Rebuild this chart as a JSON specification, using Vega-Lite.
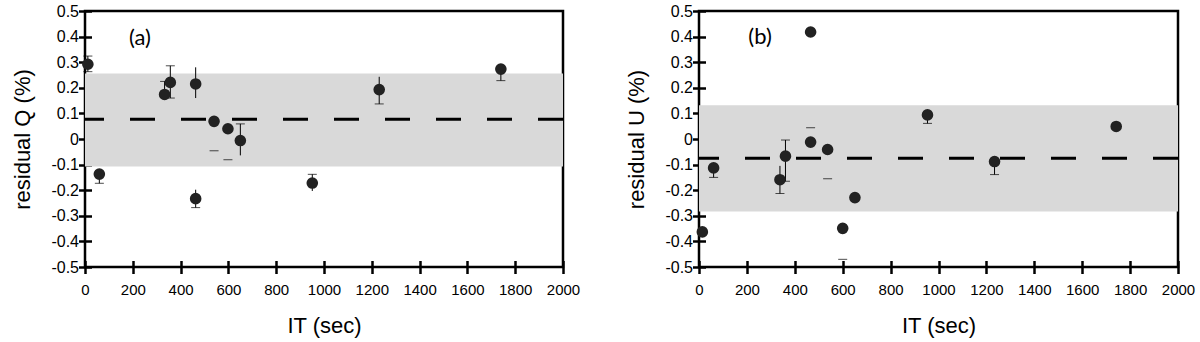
{
  "$schema": "https://vega.github.io/schema/vega-lite/v6.json",
  "padding": {"left": 10, "top": 1, "right": 0, "bottom": 0},
  "background": "white",
  "spacing": 43,
  "datasets": {
    "qpts": [
      {"it": 12, "val": 0.292, "lo": 0.263, "hi": 0.324, "cl": 0.263, "ch": 0.324},
      {"it": 60, "val": -0.137, "lo": -0.173, "hi": -0.137, "cl": -0.173, "ch": null},
      {"it": 333, "val": 0.174, "lo": 0.174, "hi": 0.225, "cl": null, "ch": 0.225},
      {"it": 357, "val": 0.221, "lo": 0.160, "hi": 0.286, "cl": 0.160, "ch": 0.286},
      {"it": 463, "val": 0.215, "lo": 0.160, "hi": 0.280, "cl": null, "ch": null},
      {"it": 463, "val": -0.233, "lo": -0.268, "hi": -0.198, "cl": -0.268, "ch": null},
      {"it": 540, "val": 0.069, "lo": 0.069, "hi": 0.069, "cl": -0.046, "ch": null},
      {"it": 598, "val": 0.040, "lo": 0.040, "hi": 0.040, "cl": -0.081, "ch": null},
      {"it": 650, "val": -0.006, "lo": -0.064, "hi": 0.059, "cl": null, "ch": 0.059},
      {"it": 951, "val": -0.172, "lo": -0.203, "hi": -0.138, "cl": null, "ch": -0.138},
      {"it": 1231, "val": 0.193, "lo": 0.137, "hi": 0.243, "cl": 0.137, "ch": null},
      {"it": 1740, "val": 0.273, "lo": 0.228, "hi": 0.273, "cl": 0.228, "ch": null}
    ],
    "qstat": [{"mean": 0.077, "lo": -0.107, "hi": 0.256}],
    "upts": [
      {"it": 14, "val": -0.363, "lo": -0.363, "hi": -0.363, "cl": null, "ch": null},
      {"it": 61, "val": -0.113, "lo": -0.150, "hi": -0.113, "cl": -0.150, "ch": null},
      {"it": 338, "val": -0.159, "lo": -0.213, "hi": -0.105, "cl": -0.213, "ch": null},
      {"it": 361, "val": -0.067, "lo": -0.165, "hi": -0.004, "cl": -0.165, "ch": -0.004},
      {"it": 466, "val": 0.418, "lo": 0.418, "hi": 0.418, "cl": null, "ch": null},
      {"it": 466, "val": -0.012, "lo": -0.012, "hi": -0.012, "cl": null, "ch": 0.044},
      {"it": 537, "val": -0.041, "lo": -0.041, "hi": -0.041, "cl": -0.155, "ch": null},
      {"it": 600, "val": -0.349, "lo": -0.349, "hi": -0.349, "cl": -0.470, "ch": null},
      {"it": 651, "val": -0.229, "lo": -0.229, "hi": -0.229, "cl": null, "ch": null},
      {"it": 954, "val": 0.094, "lo": 0.061, "hi": 0.094, "cl": 0.061, "ch": null},
      {"it": 1234, "val": -0.088, "lo": -0.139, "hi": -0.088, "cl": -0.139, "ch": null},
      {"it": 1742, "val": 0.049, "lo": 0.049, "hi": 0.049, "cl": null, "ch": null}
    ],
    "ustat": [{"mean": -0.075, "lo": -0.283, "hi": 0.132}]
  },
  "hconcat": [
    {
      "width": 478,
      "height": 256,
      "layer": [
        {
          "data": {"name": "qstat"},
          "mark": {"type": "rect", "color": "#d9d9d9"},
          "encoding": {
            "y": {"field": "hi", "type": "quantitative", "title": "residual Q (%)", "scale": {"domain": [-0.5, 0.5], "nice": false}},
            "y2": {"field": "lo"}
          }
        },
        {
          "data": {"name": "qstat"},
          "mark": {"type": "rule", "color": "black", "strokeWidth": 3, "strokeDash": [25, 26]},
          "encoding": {
            "y": {"field": "mean", "type": "quantitative", "title": "residual Q (%)"}
          }
        },
        {
          "data": {"name": "qpts"},
          "mark": {"type": "rule", "color": "black", "strokeWidth": 1},
          "encoding": {
            "x": {"field": "it", "type": "quantitative", "title": "IT (sec)"},
            "y": {"field": "lo", "type": "quantitative", "title": "residual Q (%)"},
            "y2": {"field": "hi"}
          }
        },
        {
          "data": {"name": "qpts"},
          "mark": {"type": "tick", "color": "black", "size": 9, "thickness": 1, "orient": "horizontal"},
          "encoding": {
            "x": {"field": "it", "type": "quantitative", "title": "IT (sec)"},
            "y": {"field": "cl", "type": "quantitative", "title": "residual Q (%)"}
          }
        },
        {
          "data": {"name": "qpts"},
          "mark": {"type": "tick", "color": "black", "size": 9, "thickness": 1, "orient": "horizontal"},
          "encoding": {
            "x": {"field": "it", "type": "quantitative", "title": "IT (sec)"},
            "y": {"field": "ch", "type": "quantitative", "title": "residual Q (%)"}
          }
        },
        {
          "data": {"name": "qpts"},
          "mark": {"type": "circle", "color": "#222222", "opacity": 1, "size": 135},
          "encoding": {
            "x": {"field": "it", "type": "quantitative", "title": "IT (sec)", "scale": {"domain": [0, 2000], "nice": false}, "axis": {"values": [0, 200, 400, 600, 800, 1000, 1200, 1400, 1600, 1800, 2000], "format": "d"}},
            "y": {"field": "val", "type": "quantitative", "title": "residual Q (%)", "axis": {"values": [-0.5, -0.4, -0.3, -0.2, -0.1, 0, 0.1, 0.2, 0.3, 0.4, 0.5]}}
          }
        },
        {
          "data": {"values": [{"label": "(a)"}]},
          "mark": {"type": "text", "font": "Lato", "fontSize": 22, "color": "black"},
          "encoding": {
            "text": {"field": "label"},
            "x": {"datum": 230, "type": "quantitative"},
            "y": {"datum": 0.395, "type": "quantitative"}
          }
        }
      ]
    },
    {
      "width": 479,
      "height": 256,
      "layer": [
        {
          "data": {"name": "ustat"},
          "mark": {"type": "rect", "color": "#d9d9d9"},
          "encoding": {
            "y": {"field": "hi", "type": "quantitative", "title": "residual U (%)", "scale": {"domain": [-0.5, 0.5], "nice": false}},
            "y2": {"field": "lo"}
          }
        },
        {
          "data": {"name": "ustat"},
          "mark": {"type": "rule", "color": "black", "strokeWidth": 3, "strokeDash": [25, 26]},
          "encoding": {
            "y": {"field": "mean", "type": "quantitative", "title": "residual U (%)"}
          }
        },
        {
          "data": {"name": "upts"},
          "mark": {"type": "rule", "color": "black", "strokeWidth": 1},
          "encoding": {
            "x": {"field": "it", "type": "quantitative", "title": "IT (sec)"},
            "y": {"field": "lo", "type": "quantitative", "title": "residual U (%)"},
            "y2": {"field": "hi"}
          }
        },
        {
          "data": {"name": "upts"},
          "mark": {"type": "tick", "color": "black", "size": 9, "thickness": 1, "orient": "horizontal"},
          "encoding": {
            "x": {"field": "it", "type": "quantitative", "title": "IT (sec)"},
            "y": {"field": "cl", "type": "quantitative", "title": "residual U (%)"}
          }
        },
        {
          "data": {"name": "upts"},
          "mark": {"type": "tick", "color": "black", "size": 9, "thickness": 1, "orient": "horizontal"},
          "encoding": {
            "x": {"field": "it", "type": "quantitative", "title": "IT (sec)"},
            "y": {"field": "ch", "type": "quantitative", "title": "residual U (%)"}
          }
        },
        {
          "data": {"name": "upts"},
          "mark": {"type": "circle", "color": "#222222", "opacity": 1, "size": 135},
          "encoding": {
            "x": {"field": "it", "type": "quantitative", "title": "IT (sec)", "scale": {"domain": [0, 2000], "nice": false}, "axis": {"values": [0, 200, 400, 600, 800, 1000, 1200, 1400, 1600, 1800, 2000], "format": "d"}},
            "y": {"field": "val", "type": "quantitative", "title": "residual U (%)", "axis": {"values": [-0.5, -0.4, -0.3, -0.2, -0.1, 0, 0.1, 0.2, 0.3, 0.4, 0.5]}}
          }
        },
        {
          "data": {"values": [{"label": "(b)"}]},
          "mark": {"type": "text", "font": "Lato", "fontSize": 22, "color": "black"},
          "encoding": {
            "text": {"field": "label"},
            "x": {"datum": 255, "type": "quantitative"},
            "y": {"datum": 0.4, "type": "quantitative"}
          }
        }
      ]
    }
  ],
  "config": {
    "view": {"stroke": "black", "strokeWidth": 2.5},
    "axis": {
      "domain": false,
      "grid": false,
      "offset": -6.5,
      "zindex": 1,
      "tickCount": 20,
      "labelOverlap": false,
      "labelFlush": false,
      "tickSize": 13,
      "tickWidth": 2.5,
      "tickColor": "black",
      "labelColor": "black",
      "labelFont": "Liberation Sans",
      "titleFont": "Liberation Sans",
      "titleFontSize": 22,
      "titleFontWeight": "normal",
      "titleColor": "black"
    },
    "axisX": {"labelFontSize": 15, "labelPadding": 9, "titlePadding": 18},
    "axisY": {"labelFontSize": 16, "labelPadding": 0, "titlePadding": 16, "labelExpr": "replace(format(datum.value, '.1~f'), '\u2212', '-')"}
  }
}
